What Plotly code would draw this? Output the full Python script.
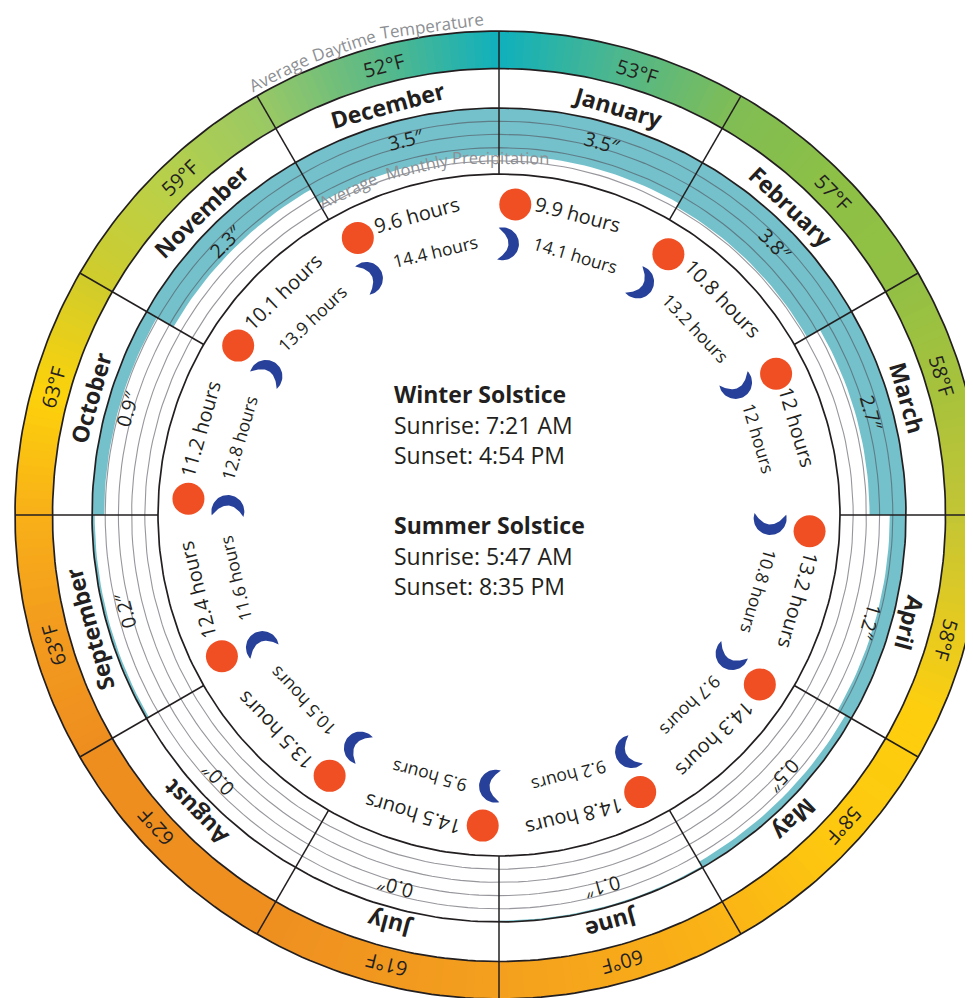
import math
import plotly.graph_objects as go

months = ["January", "February", "March", "April", "May", "June", "July",
          "August", "September", "October", "November", "December"]
temperature_f = [53, 57, 58, 58, 58, 60, 61, 62, 63, 63, 59, 52]
precip_in = [3.5, 3.8, 2.7, 1.2, 0.5, 0.1, 0.0, 0.0, 0.2, 0.9, 2.3, 3.5]
day_hours = ["9.9", "10.8", "12", "13.2", "14.3", "14.8", "14.5", "13.5", "12.4", "11.2", "10.1", "9.6"]
night_hours = ["14.1", "13.2", "12", "10.8", "9.7", "9.2", "9.5", "10.5", "11.6", "12.8", "13.9", "14.4"]
solstice_lines = [("Winter Solstice", True), ("Sunrise: 7:21 AM", False), ("Sunset: 4:54 PM", False),
                  ("Summer Solstice", True), ("Sunrise: 5:47 AM", False), ("Sunset: 8:35 PM", False)]
temp_title_words = ["Average", "Daytime", "Temperature"]
precip_title_words = ["Average", "Monthly", "Precipitation"]

# label placement around the dial, clockwise degrees from the top
month_label_deg = [16.3, 43.5, 74, 104.8, 136, 164.6, 195, 225.6, 254.4, 286, 315.6, 344.8]
temp_label_deg = [17.3, 46, 72.5, 105.6, 132, 164.6, 194, 227.7, 253.8, 286, 316.6, 345.6]
precip_label_deg = [15.5, 45.6, 74.6, 106, 132.5, 164.5, 195.5, 226.7, 255.6, 286, 315, 346]

# ring colour ramp, clockwise from the top
ramp_deg = [0, 15, 30, 45, 60, 75, 90, 105, 115, 135, 150, 165, 180, 210, 240, 255, 270, 285, 300, 315, 330, 345, 360]
ramp_hex = ["#0fb0bd", "#4fb78c", "#80bd55", "#8dc045", "#92c044", "#a8c23c", "#c3c535", "#e8cb1f", "#fdce0e",
            "#fdc80f", "#fbb515", "#f7a91a", "#f4a01e", "#ee8f20", "#ee8e1f", "#f29a1e", "#f8b018", "#fdd20b",
            "#d0cc2c", "#b8d04a", "#98c865", "#5bb988", "#0fb0bd"]

FONT = "Open Sans"
INK = "#231f20"
R_IN, R_PRECIP, R_TEMP, R_OUT = 341, 407, 446.5, 484
PX_PER_INCH = 13.5


def xy(r, deg):
    a = math.radians(deg)
    return r * math.sin(a), r * math.cos(a)


def arc(r, a0, a1, n=80):
    pts = [xy(r, a0 + (a1 - a0) * k / n) for k in range(n + 1)]
    return [p[0] for p in pts], [p[1] for p in pts]


def sector(r0, r1, a0, a1, color, name, n=24):
    xo, yo = arc(r1, a0, a1, n)
    xi, yi = arc(r0, a1, a0, n)
    return go.Scatter(x=xo + xi + xo[:1], y=yo + yi + yo[:1], mode="lines", fill="toself", fillcolor=color,
                      line=dict(width=0, color=color), hoverinfo="skip", showlegend=False, name=name)


def ramp_color(d):
    for k in range(len(ramp_deg) - 1):
        if ramp_deg[k] <= d <= ramp_deg[k + 1]:
            t = (d - ramp_deg[k]) / (ramp_deg[k + 1] - ramp_deg[k])
            c0 = [int(ramp_hex[k][j:j + 2], 16) for j in (1, 3, 5)]
            c1 = [int(ramp_hex[k + 1][j:j + 2], 16) for j in (1, 3, 5)]
            return "rgb(%d,%d,%d)" % tuple(round(a + (b - a) * t) for a, b in zip(c0, c1))
    return ramp_hex[-1]


fig = go.Figure()

# temperature ring
for d in range(0, 360):
    fig.add_trace(sector(R_TEMP, R_OUT, d, d + 1.3, ramp_color(d + 0.5), "temperature", n=3))

# precipitation bars
for i, v in enumerate(precip_in):
    if v > 0:
        fig.add_trace(sector(R_PRECIP - v * PX_PER_INCH, R_PRECIP, i * 30, (i + 1) * 30, "#74c1cb", months[i]))

# grid circles
for inch in (1, 2, 3, 4):
    xs, ys = arc(R_PRECIP - (R_PRECIP - R_IN) * inch / 5, 0, 360, 240)
    fig.add_trace(go.Scatter(x=xs, y=ys, mode="lines", line=dict(color="rgba(80,80,90,0.6)", width=1.1),
                             hoverinfo="skip", showlegend=False))
# main circles
for r in (R_IN, R_PRECIP, R_TEMP, R_OUT):
    xs, ys = arc(r, 0, 360, 360)
    fig.add_trace(go.Scatter(x=xs, y=ys, mode="lines", line=dict(color=INK, width=1.7),
                             hoverinfo="skip", showlegend=False))
# month dividers
for i in range(12):
    p0, p1 = xy(R_IN, i * 30), xy(R_OUT, i * 30)
    fig.add_trace(go.Scatter(x=[p0[0], p1[0]], y=[p0[1], p1[1]], mode="lines", line=dict(color=INK, width=1.5),
                             hoverinfo="skip", showlegend=False))

# suns
suns = [xy(311, i * 30 + 3) for i in range(12)]
fig.add_trace(go.Scatter(x=[p[0] for p in suns], y=[p[1] for p in suns], mode="markers",
                         marker=dict(size=32, color="#f04e23", line=dict(width=0)), name="Day",
                         hoverinfo="skip", showlegend=False))


# moons
def moon(cx, cy, deg):
    R, tip, thick = 16.5, 106, 10.5
    a = math.radians(deg)
    ux, uy = math.cos(a), -math.sin(a)  # belly direction (y up)
    vx, vy = -uy, ux
    outer, inner = [], []
    for k in range(41):
        t = math.radians(-tip + 2 * tip * k / 40)
        outer.append((R * math.cos(t), R * math.sin(t)))
    x_tip = R * math.cos(math.radians(tip))
    y_tip = R * math.sin(math.radians(tip))
    for k in range(41):
        t = 1 - 2 * k / 40
        inner.append((x_tip + (R - thick - x_tip) * (1 - t * t), y_tip * t))
    pts = outer + inner
    off = 6
    xs = [cx + (px - off) * ux + py * vx for px, py in pts]
    ys = [cy + (px - off) * uy + py * vy for px, py in pts]
    return xs, ys


mx, my = [], []
for i in range(12):
    c = xy(271, i * 30 + 2)
    xs, ys = moon(c[0], c[1], i * 30 + 3)
    mx += xs + [None]
    my += ys + [None]
fig.add_trace(go.Scatter(x=mx, y=my, mode="lines", fill="toself", fillcolor="#27409a",
                         line=dict(width=0, color="#27409a"), hoverinfo="skip", showlegend=False, name="Night"))

ann = []


def curved(r, deg, text, size, bold=False, color=INK):
    x, y = xy(r, deg)
    ann.append(dict(x=x, y=y, xref="x", yref="y", text=text, showarrow=False, textangle=deg % 360,
                    xanchor="center", yanchor="middle",
                    font=dict(family=FONT, size=size, color=color, weight=700 if bold else 400)))


for i in range(12):
    curved(425, month_label_deg[i], months[i], 23, bold=True)
    curved(464, temp_label_deg[i], f"{temperature_f[i]}°F", 20)
    curved(386.5, precip_label_deg[i], f"{precip_in[i]}″", 19.5)
    day = f"{day_hours[i]} hours"
    night = f"{night_hours[i]} hours"
    curved(311, i * 30 + 16 - (10 - len(day)) * 1.2, day, 20)
    curved(271, i * 30 + 16.5 - (10 - len(night)) * 1.5, night, 17.5)

for w, d in zip(temp_title_words, (333.5, 341.7, 352.2)):
    curved(494, d, w, 17, color="#8c8f93")
for w, d in zip(precip_title_words, (335, 346.7, 0.3)):
    curved(358, d, w, 16.5, color="#8c8f93")

for (txt, bold), py in zip(solstice_lines, (394, 425, 455, 525, 556, 586)):
    ann.append(dict(x=392 - 499, y=515 - py, xref="x", yref="y", text=txt, showarrow=False,
                    xanchor="left", yanchor="middle",
                    font=dict(family=FONT, size=23, color=INK, weight=700 if bold else 400)))

# the page keeps an 8 px body margin, so the figure fills the window from (8, 8)
fig.update_layout(
    width=965, height=990, autosize=False, margin=dict(l=0, r=0, t=0, b=0),
    paper_bgcolor="white", plot_bgcolor="white", showlegend=False, annotations=ann,
    xaxis=dict(range=[-491, 474], visible=False, fixedrange=True),
    yaxis=dict(range=[-483, 507], visible=False, fixedrange=True),
)
fig.write_html("out.html", config={"displayModeBar": False})
